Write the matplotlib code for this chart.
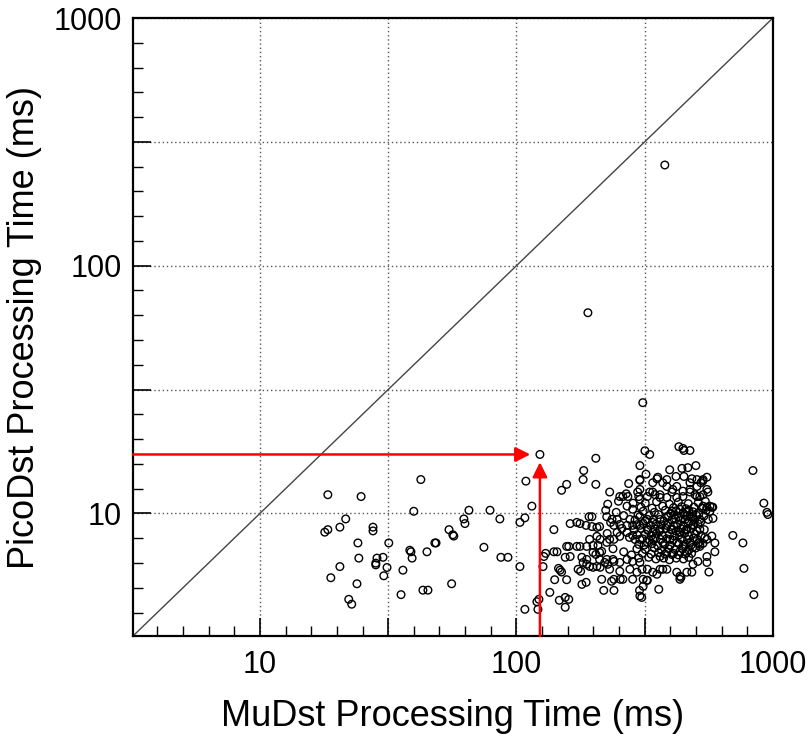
import numpy as np
import matplotlib
matplotlib.use("Agg")
import matplotlib.pyplot as plt
from matplotlib.ticker import FixedLocator, FuncFormatter

plt.rcParams["font.family"] = ["Liberation Sans", "DejaVu Sans"]

# ── Data: (MuDst ms, PicoDst ms) ─────────────────────────────────────────────

# sparse events below ~130 ms MuDst time
low_events = [
    (18.4, 11.9), (17.9, 8.4), (18.4, 8.6), (18.9, 5.5), (24.8, 11.7), (21.6, 9.5),
    (20.5, 8.8), (27.6, 8.8), (27.6, 8.5), (24.1, 7.6), (31.8, 7.6), (24.3, 6.6),
    (28.6, 6.6), (30.2, 6.65), (28.3, 6.3), (28.3, 6.2), (20.5, 6.1), (31.3, 6.05),
    (30.4, 5.6), (23.9, 5.2), (22.2, 4.5), (22.8, 4.3), (35.5, 4.7), (36.1, 5.9),
    (42.4, 13.7), (39.8, 10.2), (38.4, 7.1), (38.8, 7.0), (39.2, 6.6), (44.8, 7.0),
    (43.2, 4.9), (45.2, 4.9), (48.1, 7.6), (48.6, 7.6), (54.6, 8.6), (56.5, 8.2),
    (57.0, 8.1), (55.9, 5.2), (62.4, 9.5), (63.0, 9.1), (65.3, 10.3), (78.9, 10.3),
    (86.2, 9.5), (74.7, 7.3), (87.0, 6.65), (92.7, 6.65), (108.9, 13.5), (114.9, 10.7),
    (107.9, 9.6), (103.2, 9.2), (103.2, 6.1), (107.9, 4.1), (120.2, 4.4), (122.4, 4.5),
    (121.3, 4.1),
]

# the highlighted event (red arrows)
highlight = (123.5, 17.3)

# outliers and the sparse edge of the main cluster
edge_events = [
    (379, 255), (190, 64.6), (311, 28.0),
    (698, 8.15), (764, 7.6), (836, 14.9), (922, 11.0), (948, 10.1), (956, 9.9),
    (771, 6.0), (843, 4.7), (594, 7.6), (594, 7.0), (553, 6.7), (563, 5.8),
    (578, 8.1), (583, 10.6),
    (317, 17.9), (331, 17.3), (303, 15.6), (320, 14.4), (303, 13.6), (274, 13.2),
    (353, 13.8), (396, 15.0), (430, 18.6), (446, 18.3), (450, 17.95), (475, 17.95),
    (442, 15.2), (466, 15.3), (501, 15.6), (419, 14.1), (450, 14.1), (483, 13.8),
    (553, 14.0), (533, 13.5),
    (150, 12.4), (157, 13.1), (182, 13.7), (183, 14.9), (204, 16.7), (204, 13.1),
    (140, 8.6), (130, 6.9), (128, 6.7), (127, 6.1), (135, 4.8), (141, 5.4), (157, 5.4),
    (146, 6.0), (148, 5.9), (150, 5.8), (140, 7.0), (144, 7.0), (157, 7.36), (160, 7.36),
    (172, 7.36), (177, 7.36), (155, 6.65), (162, 6.7), (180, 6.65), (182, 6.34),
    (188, 6.23), (174, 5.95), (178, 5.84), (199, 7.43), (208, 7.43), (199, 6.96),
    (211, 6.96), (215, 7.03), (147, 4.46), (155, 4.58), (160, 4.5), (155, 4.18),
    (180, 5.17), (187, 5.27), (199, 6.06), (206, 6.11), (219, 4.89), (240, 4.89),
    (215, 5.42), (235, 5.32), (254, 5.42), (211, 6.52), (221, 6.34), (227, 6.23),
    (238, 6.52), (162, 9.1), (172, 9.2), (177, 9.1), (187, 8.95), (197, 8.85),
    (206, 8.78), (211, 8.85), (192, 9.7), (197, 9.7),
    (308, 4.58), (359, 4.94), (302, 4.89), (322, 5.37), (312, 5.42),
]

# main cluster, 200 - 600 ms MuDst
cluster_events = [
    (303, 4.64), (312, 5.08), (324, 5.37), (309, 5.95), (324, 5.95), (340, 5.79),
    (353, 5.68), (372, 5.95), (543, 8.0), (534, 7.57), (553, 6.34), (510, 6.4),
    (488, 6.23), (483, 5.79), (434, 5.42), (438, 5.52), (524, 13.3), (356, 14.0),
    (372, 13.3), (386, 12.85), (407, 12.5), (446, 12.3), (475, 12.5), (506, 12.85),
    (303, 13.7), (303, 12.5), (331, 12.2), (347, 11.9), (363, 11.6), (422, 11.6),
    (446, 11.7), (497, 11.9), (519, 11.7), (568, 10.2), (553, 10.6), (584, 9.55),
    (231, 12.2), (253, 11.7), (260, 11.7), (272, 11.7), (297, 12.2), (300, 11.7),
    (227, 10.9), (223, 10.3), (225, 9.7), (236, 9.46), (247, 9.46), (253, 9.03),
    (270, 8.95), (225, 7.64), (240, 7.86), (253, 8.08), (284, 8.15), (204, 6.83),
    (225, 6.52), (240, 6.40), (253, 6.34), (270, 6.52), (284, 6.40), (303, 6.34),
    (212, 6.06), (231, 5.95), (253, 5.84), (277, 5.95), (295, 5.79), (363, 5.95),
    (240, 5.42), (260, 5.42), (284, 5.42), (386, 5.95), (422, 5.79), (434, 5.58),
    (462, 5.79), (363, 6.70), (386, 6.96), (404, 6.83), (434, 7.03), (462, 6.96),
    (487, 7.29), (519, 7.50), (553, 7.86),
    (303, 9.72), (324, 9.46), (340, 9.20), (363, 9.46), (386, 9.72), (404, 10.2),
    (434, 10.4), (462, 10.1), (487, 9.72), (519, 9.46), (534, 10.7), (568, 10.7),
    (303, 8.95), (324, 8.62), (340, 8.38), (363, 8.62), (386, 8.95), (404, 8.62),
    (434, 8.38), (462, 8.62), (487, 8.95), (519, 8.62),
    (303, 7.86), (324, 7.64), (340, 7.86), (372, 7.64), (397, 7.86), (422, 7.64),
    (446, 7.36), (475, 7.64), (506, 7.86), (519, 7.36),
    (303, 11.4), (324, 11.7), (340, 12.2), (363, 11.9), (386, 11.6), (404, 12.2),
    (475, 12.2), (506, 11.7), (534, 11.9), (558, 12.2), (578, 10.6),
    (340, 13.3), (386, 13.7), (422, 12.85), (475, 13.3), (506, 13.7), (534, 13.7),
    (553, 12.5), (270, 10.7), (284, 10.4), (277, 9.46), (284, 8.95), (270, 8.38),
    (240, 8.95), (247, 8.38), (231, 7.86), (206, 8.08), (212, 7.86), (193, 7.86),
    (188, 7.36), (188, 6.52), (193, 6.11),
    (245, 10.1), (262, 9.8), (233, 9.2), (258, 8.7), (276, 8.0), (238, 7.2),
    (262, 7.0), (281, 6.8), (226, 8.3), (250, 11.2), (268, 12.0), (285, 11.0),
]

# dense core of the cluster
core_events = [
    (318, 11.0), (352, 11.15), (395, 10.9), (428, 11.1), (468, 10.95), (512, 11.05),
    (545, 11.2), (306, 10.6), (338, 10.5), (372, 10.7), (410, 10.55), (441, 10.65),
    (458, 10.45), (492, 10.6), (530, 10.5), (312, 10.2), (345, 10.1), (381, 10.3),
    (399, 10.0), (420, 10.25), (446, 10.05), (470, 10.3), (488, 10.15), (515, 10.0),
    (550, 10.3), (298, 9.85), (330, 9.8), (358, 9.9), (392, 9.75), (412, 9.85),
    (430, 9.7), (452, 9.9), (463, 9.8), (480, 9.65), (502, 9.85), (538, 9.75),
    (290, 9.4), (318, 9.35), (342, 9.45), (376, 9.3), (404, 9.4), (418, 9.5),
    (437, 9.35), (455, 9.45), (472, 9.3), (495, 9.4), (523, 9.25), (560, 9.45),
    (295, 9.0), (312, 9.1), (333, 8.95), (350, 9.05), (368, 9.0), (390, 9.1),
    (410, 8.9), (425, 9.05), (447, 8.95), (468, 9.1), (490, 9.0), (510, 9.1),
    (288, 8.6), (306, 8.7), (325, 8.55), (347, 8.65), (362, 8.5), (383, 8.7),
    (401, 8.6), (420, 8.5), (440, 8.65), (458, 8.55), (480, 8.7), (505, 8.5),
    (540, 8.6), (296, 8.2), (318, 8.25), (335, 8.1), (352, 8.3), (370, 8.15),
    (395, 8.25), (413, 8.1), (432, 8.2), (452, 8.3), (470, 8.1), (498, 8.25),
    (525, 8.15), (290, 7.85), (310, 7.9), (330, 7.8), (346, 7.95), (365, 7.85),
    (385, 7.9), (408, 7.8), (440, 7.9), (465, 7.85), (490, 7.95), (300, 7.5),
    (315, 7.45), (338, 7.55), (356, 7.4), (378, 7.5), (398, 7.45), (430, 7.55),
    (455, 7.5), (480, 7.45), (512, 7.6), (295, 7.2), (318, 7.15), (345, 7.25),
    (368, 7.1), (392, 7.2), (415, 7.15), (445, 7.2), (470, 7.1), (500, 7.25),
    (310, 6.9), (335, 6.85), (358, 6.95), (380, 6.85), (410, 6.9), (428, 6.8),
    (455, 6.85), (482, 6.9), (300, 6.6), (328, 6.65), (350, 6.55), (375, 6.6),
    (395, 6.5), (420, 6.6), (448, 6.55), (470, 6.65),
]

AXIS_MIN, AXIS_MAX = 3.2, 1000.0
X_LABEL = "MuDst Processing Time (ms)"
Y_LABEL = "PicoDst Processing Time (ms)"

# ── Figure ────────────────────────────────────────────────────────────────────

events = low_events + [highlight] + edge_events + cluster_events + core_events
mudst, picodst = (np.array(v) for v in zip(*events))

fig = plt.figure(figsize=(8.11, 7.41), dpi=100)
ax = fig.add_axes([0.164, 0.1417, 0.789, 0.834])

ax.set_xscale("log")
ax.set_yscale("log")
ax.set_xlim(AXIS_MIN, AXIS_MAX)
ax.set_ylim(AXIS_MIN, AXIS_MAX)

# y = x reference line
ax.plot([AXIS_MIN, AXIS_MAX], [AXIS_MIN, AXIS_MAX], color="#444444", lw=1.0, zorder=2)

ax.scatter(mudst, picodst, s=30, facecolors="none", edgecolors="black",
           linewidths=1.0, zorder=3)

# red arrows pointing at the highlighted event
hx, hy = highlight
arrow = dict(arrowstyle="-|>", color="red", lw=1.8, mutation_scale=22,
             shrinkA=0, shrinkB=0)
ax.annotate("", xy=(hx / 1.09, hy), xytext=(AXIS_MIN, hy), arrowprops=arrow, zorder=4)
ax.annotate("", xy=(hx, hy / 1.075), xytext=(hx, AXIS_MIN), arrowprops=arrow, zorder=4)

# ROOT-style ticks: long every half decade, short every tenth of a decade
major = [10 ** (k / 2) for k in range(1, 7)]
minor = [10 ** (k / 10) for k in range(5, 31)]


def decade_label(v, _pos):
    lg = np.log10(v)
    return f"{v:.0f}" if abs(lg - round(lg)) < 1e-6 else ""


for axis in (ax.xaxis, ax.yaxis):
    axis.set_major_locator(FixedLocator(major))
    axis.set_minor_locator(FixedLocator(minor))
    axis.set_major_formatter(FuncFormatter(decade_label))
    axis.set_minor_formatter(FuncFormatter(lambda v, p: ""))

ax.tick_params(which="major", direction="in", length=13, width=1.2,
               labelsize=22, top=False, right=False)
ax.tick_params(which="minor", direction="in", length=7, width=1.0,
               top=False, right=False)
ax.tick_params(axis="x", which="major", pad=10)
ax.tick_params(axis="y", which="major", pad=8)

ax.grid(True, which="major", linestyle=(0, (1, 2)), color="#555555", lw=1.0)

for side in ax.spines.values():
    side.set_linewidth(1.6)

ax.set_xlabel(X_LABEL, fontsize=26, labelpad=14)
ax.set_ylabel(Y_LABEL, fontsize=26, labelpad=8)

fig.savefig("out.png", dpi=100)
